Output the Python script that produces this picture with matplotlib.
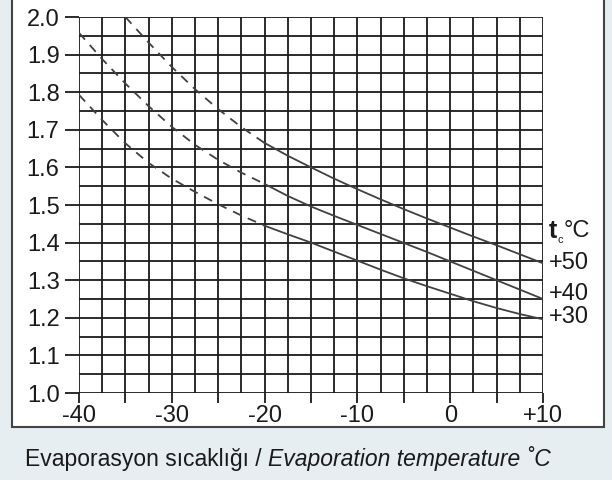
import matplotlib
matplotlib.use("Agg")
import matplotlib.pyplot as plt
from matplotlib.patches import Rectangle
import numpy as np

plt.rcParams['font.family'] = ['Liberation Sans', 'DejaVu Sans']

# evaporation temperature (C)
t_evap = [-40, -37.5, -35, -32.5, -30, -27.5, -25, -22.5, -20, -17.5,
          -15, -12.5, -10, -7.5, -5, -2.5, 0, 2.5, 5, 7.5, 10]

# curves, per condensing temperature
c50 = [None, None, 2.00, 1.932, 1.867, 1.808, 1.755, 1.707, 1.665, 1.631,
       1.600, 1.570, 1.542, 1.515, 1.489, 1.464, 1.440, 1.416, 1.393, 1.369, 1.345]
c40 = [1.958, 1.888, 1.823, 1.763, 1.708, 1.660, 1.620, 1.586, 1.556, 1.524,
       1.496, 1.471, 1.447, 1.423, 1.399, 1.375, 1.350, 1.325, 1.300, 1.275, 1.250]
c30 = [1.793, 1.726, 1.664, 1.612, 1.570, 1.535, 1.502, 1.472, 1.445, 1.422,
       1.400, 1.376, 1.352, 1.328, 1.305, 1.284, 1.264, 1.244, 1.226, 1.210, 1.196]

curves = {"+50": c50, "+40": c40, "+30": c30}
label_y = {"+50": 1.345, "+40": 1.262, "+30": 1.203}
split_t = -20  # dashed left of this, solid right

yticks = [1.0, 1.1, 1.2, 1.3, 1.4, 1.5, 1.6, 1.7, 1.8, 1.9, 2.0]

fig = plt.figure(figsize=(6.12, 4.8), dpi=100)
fig.patch.set_facecolor('#e7eef1')

# white panel behind the chart
panel = Rectangle((12/612, 1 - 427/480), 592/612, 430/480,
                  transform=fig.transFigure, facecolor='white',
                  edgecolor='#444444', linewidth=1.5, zorder=-10)
fig.add_artist(panel)

ax = fig.add_axes([79/612, 1 - 393/480, 464/612, 376/480])
ax.set_facecolor('none')
ax.set_xlim(-40, 10)
ax.set_ylim(1.0, 2.0)

# dense grid
for gx in np.arange(-40, 10.01, 2.5):
    ax.axvline(gx, color='#1a1a1a', lw=1.3, zorder=1)
for gy in np.arange(1.0, 2.001, 0.05):
    ax.axhline(gy, color='#1a1a1a', lw=1.3, zorder=1)

for name, vals in curves.items():
    pts = [(t, v) for t, v in zip(t_evap, vals) if v is not None]
    xs = np.array([p[0] for p in pts])
    ys = np.array([p[1] for p in pts])
    m = xs <= split_t
    ax.plot(xs[m], ys[m], color='#404040', lw=1.3, dashes=(5, 4), zorder=3)
    ax.plot(xs[xs >= split_t], ys[xs >= split_t], color='#404040', lw=1.3, zorder=3)
    ax.annotate(name, xy=(10, label_y[name]), xytext=(4, 0),
                textcoords='offset points', va='center', ha='left',
                fontsize=17, color='#1a1a1a', annotation_clip=False)

ax.annotate("t", xy=(10, 1.43), xytext=(4, 0), textcoords='offset points',
            va='center', ha='left', fontsize=18, fontweight='bold',
            color='#1a1a1a', annotation_clip=False)
ax.annotate("c", xy=(10, 1.43), xytext=(10.5, -6), textcoords='offset points',
            va='center', ha='left', fontsize=8, color='#1a1a1a',
            annotation_clip=False)
ax.annotate("°C", xy=(10, 1.43), xytext=(14.5, 0), textcoords='offset points',
            va='center', ha='left', fontsize=17, color='#1a1a1a',
            annotation_clip=False)

for s in ax.spines.values():
    s.set_visible(False)

ax.set_xticks(np.arange(-40, 10.01, 5))
ax.set_xticklabels(["-40", "", "-30", "", "-20", "", "-10", "", "0", "", "+10"])
ax.set_yticks(yticks)
ax.set_yticklabels(["%.1f" % v for v in yticks])
ax.tick_params(axis='x', length=7, width=1.3, color='#1a1a1a', pad=2,
               labelsize=17, labelcolor='#1a1a1a')
ax.tick_params(axis='y', length=10, width=1.3, color='#1a1a1a', pad=4,
               labelsize=17, labelcolor='#1a1a1a')

t1 = fig.text(25/612, 1 - 466/480, "Evaporasyon sıcaklığı / ", fontsize=16.5,
              color='#1a1a1a', va='baseline', ha='left')
fig.canvas.draw()
bb = t1.get_window_extent()
fig.text(bb.x1 / 612, 1 - 466/480, "Evaporation temperature ˚C",
         fontsize=16.5, style='italic', color='#1a1a1a', va='baseline', ha='left')

fig.savefig("out.png", dpi=100, facecolor=fig.get_facecolor())
